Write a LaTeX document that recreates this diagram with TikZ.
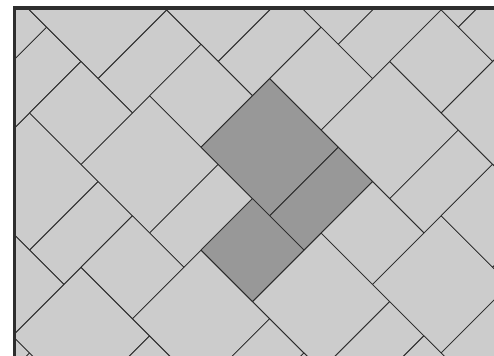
\documentclass[tikz,border=0pt]{standalone}
\usepackage{xcolor}
\definecolor{paving}{HTML}{CCCCCC}
\definecolor{pavingdark}{HTML}{989898}
\definecolor{joint}{HTML}{2A2A2A}
\definecolor{edging}{HTML}{2E2E2E}

\begin{document}
\begin{tikzpicture}[
    x=0.75pt, y=-0.75pt,
    slab/.style={fill=paving, draw=joint, line width=0.6pt, line join=round},
    slabdark/.style={slab, fill=pavingdark},
    edge/.style={draw=edging, line width=2.3pt, line join=miter}
]
    \useasboundingbox (0,0) rectangle (494,356);

    \begin{scope}
        \clip (14.8,8) rectangle (520,380);
        \fill[paving] (14.8,8) rectangle (520,380);
        \begin{scope}[shift={(9.34pt,5.33pt)}, x={(12.86pt,12.86pt)}, y={(12.86pt,-12.86pt)}]
            % one group = 4x4 slab, 4x2 slab, 3x3 slab; repeated on the lattice (4,3), (3,-6)
            \foreach \i in {-5,...,5}
                \foreach \j in {-4,...,4} {
                    \pgfmathtruncatemacro{\pa}{1+4*\i+3*\j}
                    \pgfmathtruncatemacro{\qa}{10+3*\i-6*\j}
                    \path[slab] (\pa,\qa) -- ({\pa+4},\qa) -- ({\pa+4},{\qa+4}) -- (\pa,{\qa+4}) -- cycle;
                    \path[slab] (\pa,{\qa+4}) -- ({\pa+4},{\qa+4}) -- ({\pa+4},{\qa+6}) -- (\pa,{\qa+6}) -- cycle;
                    \path[slab] ({\pa-3},{\qa+3}) -- (\pa,{\qa+3}) -- (\pa,{\qa+6}) -- ({\pa-3},{\qa+6}) -- cycle;
                }
            \path[slabdark] (1,10) -- (5,10) -- (5,14) -- (1,14) -- cycle;
            \path[slabdark] (1,14) -- (5,14) -- (5,16) -- (1,16) -- cycle;
            \path[slabdark] (-2,13) -- (1,13) -- (1,16) -- (-2,16) -- cycle;
        \end{scope}
    \end{scope}

    \draw[edge] (14.8,400) -- (14.8,8) -- (540,8);
\end{tikzpicture}
\end{document}
